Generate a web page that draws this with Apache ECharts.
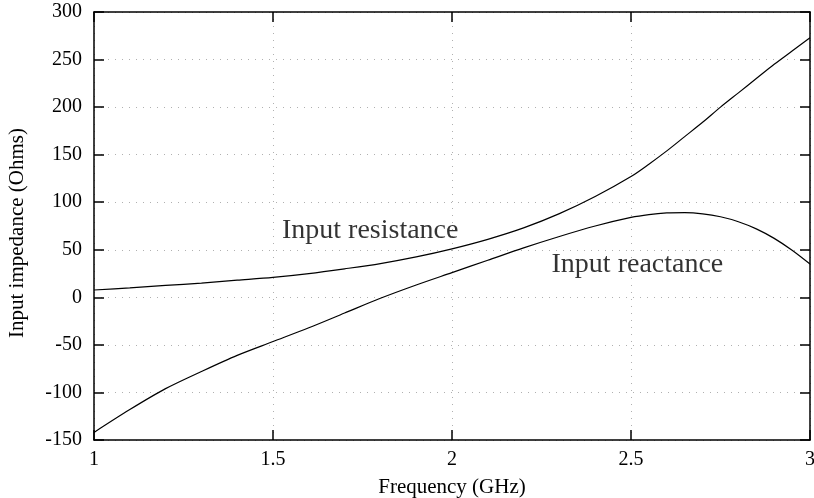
<!DOCTYPE html>
<html>
<head>
<meta charset="utf-8">
<script src="https://cdn.jsdelivr.net/npm/echarts@6/dist/echarts.min.js"></script>
<style>html,body{margin:0;padding:0;background:#fff;}#c{width:814px;height:498px;}</style>
</head>
<body>
<div id="c"></div>
<script>
const frequency = [1.0,1.1,1.2,1.3,1.4,1.5,1.6,1.7,1.8,1.9,2.0,2.1,2.2,2.3,2.4,2.5,2.55,2.6,2.65,2.7,2.75,2.8,2.85,2.9,2.95,3.0];
const resistance = [7.7,10,12.5,15,18,21,25,30,35.5,42.5,51,61,73,88,106,127,140,154,169,184,200,215,230,245,259,273];
const reactance = [-142,-118,-96,-78,-61,-46.5,-32,-16.5,-1,13,26,39,52,64,75,84,87,88.7,89,87.8,84.7,79.5,72,62,49.5,35];
const annotationTexts = ['Input resistance','Input reactance'];
const annotationX = [1.525, 2.278];
const annotationY = [70, 34];
const xTicks = {min:1, max:3, interval:0.5};
const yTicks = {min:-150, max:300, interval:50};

const font = 'Liberation Serif';
const chart = echarts.init(document.getElementById('c'), null, {renderer:'canvas'});
const pairs = (ys) => frequency.map((f,i)=>[f, ys[i]]);
const gridDots = {show:true, lineStyle:{color:'#b0b0b0', type:[1,6], width:1}};
const tickIn = {show:true, inside:true, length:10, lineStyle:{color:'#000', width:1.5}};
const axLine = {show:true, onZero:false, lineStyle:{color:'#000', width:1.5}};

chart.setOption({
  animation:false,
  backgroundColor:'#fff',
  grid:{left:94, right:4, top:12, bottom:58, containLabel:false, outerBoundsMode:'none'},
  xAxis:[
    {type:'value', min:xTicks.min, max:xTicks.max, interval:xTicks.interval, position:'bottom',
     axisLine:axLine, axisTick:tickIn, splitLine:gridDots,
     axisLabel:{color:'#000', fontFamily:font, fontSize:20, margin:10},
     name:'Frequency (GHz)', nameLocation:'middle', nameGap:37,
     nameTextStyle:{color:'#000', fontFamily:font, fontSize:21}},
    {type:'value', min:xTicks.min, max:xTicks.max, interval:xTicks.interval, position:'top',
     axisLine:axLine, axisTick:tickIn, splitLine:{show:false}, axisLabel:{show:false}}
  ],
  yAxis:[
    {type:'value', min:yTicks.min, max:yTicks.max, interval:yTicks.interval, position:'left',
     axisLine:axLine, axisTick:tickIn, splitLine:gridDots,
     axisLabel:{color:'#000', fontFamily:font, fontSize:20, margin:12},
     name:'Input impedance (Ohms)', nameLocation:'middle', nameGap:66,
     nameTextStyle:{color:'#000', fontFamily:font, fontSize:21, padding:[0,14,0,0]}},
    {type:'value', min:yTicks.min, max:yTicks.max, interval:yTicks.interval, position:'right',
     axisLine:axLine, axisTick:tickIn, splitLine:{show:false}, axisLabel:{show:false}}
  ],
  series:[
    {type:'line', name:'Input resistance', data:pairs(resistance), smooth:0.3, showSymbol:false,
     lineStyle:{color:'#000', width:1.2}, z:3},
    {type:'line', name:'Input reactance', data:pairs(reactance), smooth:0.3, showSymbol:false,
     lineStyle:{color:'#000', width:1.2}, z:3},
    {type:'scatter', symbolSize:0, silent:true,
     data:annotationTexts.map((t,i)=>({value:[annotationX[i], annotationY[i]], name:t})),
     label:{show:true, position:'inside', align:'left', verticalAlign:'middle',
            formatter:(p)=>p.name, color:'#000', textBorderWidth:0, fontFamily:font, fontSize:28}}
  ]
});
</script>
</body>
</html>
